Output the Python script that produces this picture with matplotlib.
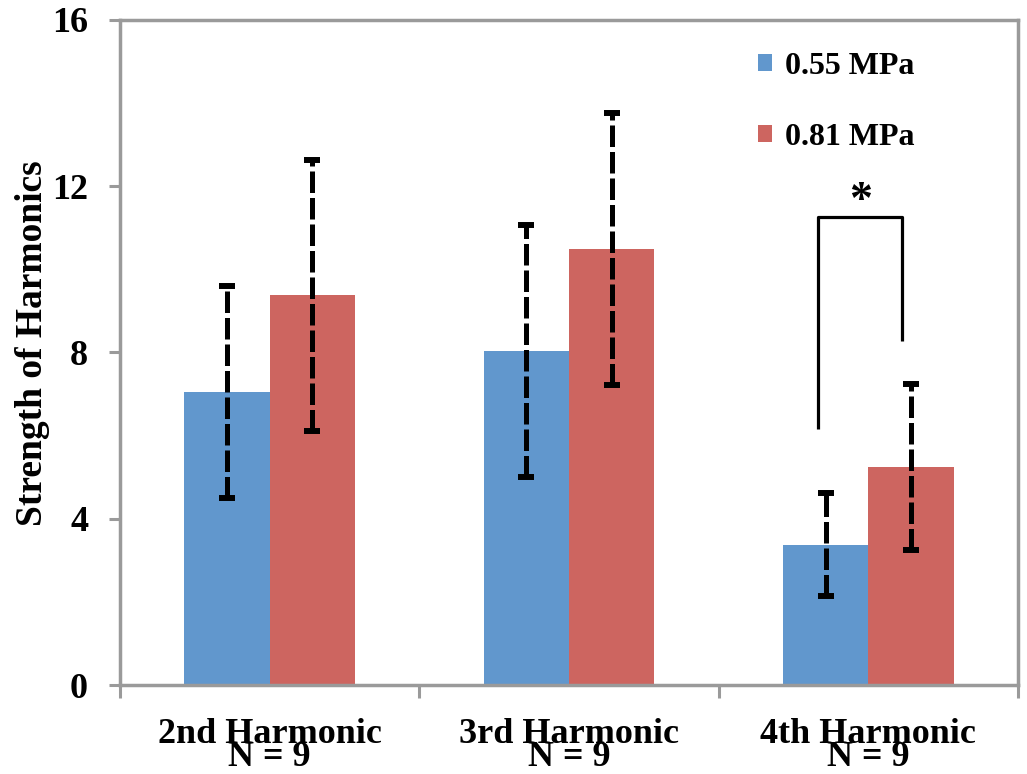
import matplotlib.pyplot as plt
import numpy as np

# Values
categories = ['2nd Harmonic', '3rd Harmonic', '4th Harmonic']
n_labels = ['N = 9', 'N = 9', 'N = 9']
series = ['0.55 MPa', '0.81 MPa']
low_vals = [7.04, 8.04, 3.38]
low_err = [2.55, 3.03, 1.24]
high_vals = [9.38, 10.49, 5.25]
high_err = [3.26, 3.27, 2.0]

# significance bracket on 4th harmonic (left leg bottom, top, right leg bottom)
bracket_y = [6.15, 11.26, 8.28]

plt.rcParams['font.family'] = ['Liberation Serif', 'DejaVu Serif']
plt.rcParams['font.weight'] = 'bold'
plt.rcParams['axes.labelweight'] = 'bold'

blue = '#6197cd'
red = '#cd6560'
grey = '#9a9a9a'

fig = plt.figure(figsize=(10.27, 7.74), dpi=100)
ax = fig.add_axes([120 / 1027, 89 / 774, 898 / 1027, 665 / 774])

x = np.arange(len(categories))
w = 0.285
b1 = ax.bar(x - w / 2, low_vals, w, color=blue, label=series[0], zorder=2)
b2 = ax.bar(x + w / 2, high_vals, w, color=red, label=series[1], zorder=2)

for xs, vals, errs in [(x - w / 2, low_vals, low_err), (x + w / 2, high_vals, high_err)]:
    eb = ax.errorbar(xs, vals, yerr=errs, fmt='none', ecolor='black',
                     elinewidth=3.6, capsize=6, capthick=4.3, zorder=3)
    eb[2][0].set_linestyle((0, (4.3, 1.0)))

# bracket + star
bx0 = x[2] - w / 2 - 0.025
bx1 = x[2] + w / 2 - 0.03
ax.plot([bx0, bx0, bx1, bx1], [bracket_y[0], bracket_y[1], bracket_y[1], bracket_y[2]],
        color='black', lw=2.3, solid_capstyle='butt', zorder=3)
ax.text((bx0 + bx1) / 2, bracket_y[1] + 0.1, '*', fontsize=33, ha='center',
        va='baseline', fontweight='bold')

ax.set_xlim(-0.5, 2.5)
ax.set_ylim(0, 16)
ax.set_yticks([0, 4, 8, 12, 16])
ax.tick_params(axis='y', labelsize=26, length=8, width=2.2, color=grey, pad=15)

ax.set_xticks(x)
ax.set_xticklabels([])
ax.tick_params(axis='x', which='major', length=0)
ax.set_xticks([-0.5, 0.5, 1.5, 2.5], minor=True)
ax.tick_params(axis='x', which='minor', length=9, width=2.2, color=grey, direction='out')

for s in ax.spines.values():
    s.set_color(grey)
    s.set_linewidth(2.5)

tr = ax.get_xaxis_transform()
for i, c in enumerate(categories):
    ax.text(x[i], -33 / 665, c + '\n' + n_labels[i], transform=tr, ha='center',
            va='top', multialignment='center', fontsize=26, linespacing=0.6)

ax.set_ylabel('Strength of Harmonics', fontsize=27)
ax.yaxis.set_label_coords(-0.078, 0.514)

ax.legend(handles=[b1, b2], loc='upper left', bbox_to_anchor=(758 / 1027, 722 / 774),
          bbox_transform=fig.transFigure, frameon=False, fontsize=23,
          handlelength=0.45, handleheight=0.45, handletextpad=0.4,
          labelspacing=1.3, borderpad=0, borderaxespad=0)

fig.savefig('out.png', dpi=100)
